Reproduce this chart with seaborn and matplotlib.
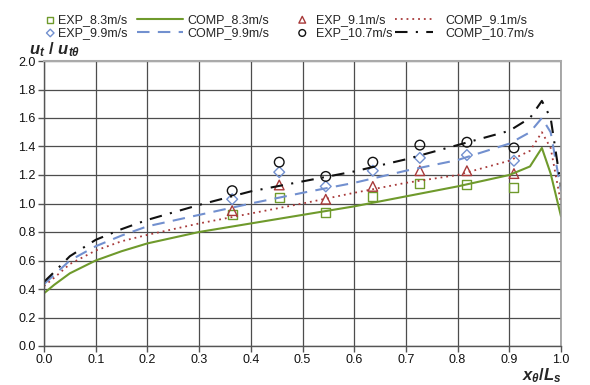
#!/usr/bin/env python3

import numpy as np
import matplotlib as mpl
from matplotlib import pyplot as plt
import seaborn as sns
import pandas as pd

sns.set_style("white")
plt.rcParams['font.family'] = ['Liberation Sans', 'DejaVu Sans']
plt.rcParams['mathtext.fontset'] = 'custom'
plt.rcParams['mathtext.it'] = 'Liberation Sans:italic:bold'
plt.rcParams['mathtext.rm'] = 'Liberation Sans:bold'

# measured points (x / Ls)
x_exp = [0.364, 0.455, 0.545, 0.636, 0.727, 0.818, 0.909]
exp_83 = [0.92, 1.04, 0.94, 1.05, 1.14, 1.13, 1.11]
exp_91 = [0.95, 1.13, 1.03, 1.12, 1.23, 1.23, 1.21]
exp_99 = [1.03, 1.22, 1.12, 1.23, 1.32, 1.34, 1.30]
exp_107 = [1.09, 1.29, 1.19, 1.29, 1.41, 1.43, 1.39]

# computed curves
x_comp = [0.0, 0.02, 0.05, 0.1, 0.15, 0.2, 0.3, 0.4, 0.5, 0.6, 0.7, 0.8, 0.9, 0.94, 0.963, 0.98, 1.0]
comp_83 = [0.37, 0.43, 0.51, 0.60, 0.665, 0.72, 0.80, 0.86, 0.92, 0.98, 1.05, 1.12, 1.20, 1.26, 1.39, 1.21, 0.91]
comp_91 = [0.42, 0.48, 0.575, 0.67, 0.735, 0.78, 0.86, 0.93, 1.00, 1.075, 1.145, 1.20, 1.30, 1.37, 1.50, 1.39, 1.00]
comp_99 = [0.435, 0.50, 0.60, 0.70, 0.775, 0.84, 0.92, 1.00, 1.075, 1.145, 1.23, 1.305, 1.42, 1.50, 1.60, 1.50, 1.09]
comp_107 = [0.45, 0.52, 0.63, 0.745, 0.82, 0.885, 0.99, 1.085, 1.155, 1.225, 1.31, 1.41, 1.51, 1.60, 1.72, 1.60, 1.12]

green = '#6f9a2c'
red = '#a83a3a'
blue = '#7290cf'
black = '#111111'

fig = plt.figure(figsize=(5.9, 3.85), dpi=100)
ax = fig.add_axes([44/590, 1-346/385, (561-44)/590, (346-61)/385])

lw = 1.5
sns.lineplot(x=x_comp, y=comp_83, ax=ax, color=green, lw=lw, label='COMP_8.3m/s')
sns.lineplot(x=x_comp, y=comp_91, ax=ax, color=red, lw=1.3, ls=(0, (1, 2.2)), label='COMP_9.1m/s')
sns.lineplot(x=x_comp, y=comp_99, ax=ax, color=blue, lw=lw, ls=(0, (6, 4)), label='COMP_9.9m/s')
sns.lineplot(x=x_comp, y=comp_107, ax=ax, color=black, lw=lw, ls=(0, (6, 4, 1, 4)), label='COMP_10.7m/s')

sns.scatterplot(x=x_exp, y=exp_83, ax=ax, marker='s', s=42, facecolor='none', edgecolor=green, linewidth=1, label='EXP_8.3m/s')
sns.scatterplot(x=x_exp, y=exp_91, ax=ax, marker='^', s=48, facecolor='none', edgecolor=red, linewidth=1, label='EXP_9.1m/s')
sns.scatterplot(x=x_exp, y=exp_99, ax=ax, marker='D', s=30, facecolor='none', edgecolor=blue, linewidth=1, label='EXP_9.9m/s')
sns.scatterplot(x=x_exp, y=exp_107, ax=ax, marker='o', s=48, facecolor='none', edgecolor=black, linewidth=1, label='EXP_10.7m/s')

handles, labels = ax.get_legend_handles_labels()
hmap = dict(zip(labels, handles))
ax.legend_.remove()

cols = [
    (['EXP_8.3m/s', 'EXP_9.9m/s'], 44, 1.0, 0.15, 0.7),
    (['COMP_8.3m/s', 'COMP_9.9m/s'], 137, 3.7, 0.3, 1.0),
    (['EXP_9.1m/s', 'EXP_10.7m/s'], 296, 1.0, 0.6, 0.7),
    (['COMP_9.1m/s', 'COMP_10.7m/s'], 395, 3.0, 1.0, 1.0),
]
for labs, xpix, hl, htp, ms in cols:
    fig.legend([hmap[l] for l in labs], labs, loc='upper left',
               bbox_to_anchor=(xpix/590, 1-14/385), frameon=False, fontsize=9,
               handlelength=hl, handletextpad=htp, borderpad=0, borderaxespad=0,
               labelspacing=0.1, markerscale=ms)

ax.set_xlim(0, 1)
ax.set_ylim(0, 2)
ax.set_xticks(np.arange(0, 1.01, 0.1))
ax.set_yticks(np.arange(0, 2.01, 0.2))
ax.xaxis.set_major_formatter(mpl.ticker.FormatStrFormatter('%.1f'))
ax.yaxis.set_major_formatter(mpl.ticker.FormatStrFormatter('%.1f'))
ax.tick_params(axis='both', labelsize=9, length=4, width=1, color='#555555',
               direction='out', left=True, bottom=True, pad=2, labelcolor='#111111')
ax.grid(True, color='#4d4d4d', lw=0.9)
ax.set_axisbelow(True)
for side in ['left', 'bottom']:
    ax.spines[side].set_color('#555555')
    ax.spines[side].set_linewidth(1)
ax.spines['top'].set_color('#aaaaaa')
ax.spines['top'].set_linewidth(1.5)
ax.spines['right'].set_color('#999999')
ax.spines['right'].set_linewidth(1.2)
ax.set_xlabel('')
ax.set_ylabel('')

fig.text(29/590, 1-54/385, r'$u_t\,\,/\,\,u_{t\theta}$', fontsize=12, ha='left', va='baseline')
fig.text(562/590, 1-380/385, r'$x_\theta/L_s$', fontsize=12, ha='right', va='baseline')

fig.savefig('out.png', dpi=100)
